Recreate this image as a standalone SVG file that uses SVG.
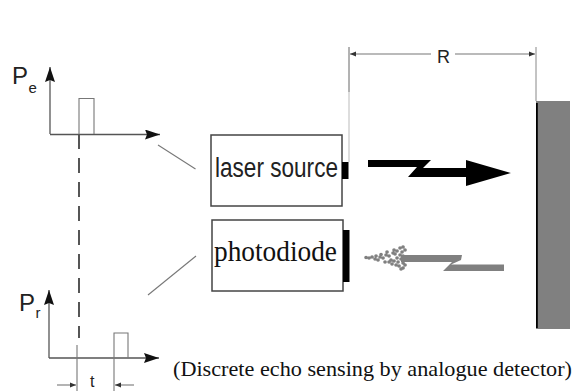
<svg xmlns="http://www.w3.org/2000/svg" width="573" height="391" viewBox="0 0 573 391">
<style>
.ax{fill:none;stroke:#555;stroke-width:1.3}
.thin{fill:none;stroke:#777;stroke-width:1.1}
.box{fill:#fff;stroke:#444;stroke-width:1.5}
.sans{font-family:"Liberation Sans",Arial,sans-serif;fill:#222}
.serif{font-family:"Liberation Serif","Times New Roman",serif;fill:#111}
.blk{fill:#000}
.gr{fill:#808080}
</style>
<defs>
<marker id="big" markerUnits="userSpaceOnUse" markerWidth="16" markerHeight="10" refX="15" refY="5" orient="auto"><path d="M0 0L15 5L0 10L2 5Z" fill="#111"/></marker>
<marker id="small" markerUnits="userSpaceOnUse" markerWidth="7" markerHeight="6" refX="6" refY="3" orient="auto"><path d="M0 0.5L6 3L0 5.5Z" fill="#333"/></marker>
</defs>
<rect width="573" height="391" fill="#fff"/>
<g id="connectors">
<path class="thin" d="M158 145L195.500 169"/>
<path class="thin" d="M148 295L196 256"/>
<path d="M349 47V92" stroke="#666" stroke-width="1" fill="none"/>
<path d="M349 92V162" stroke="#bbb" stroke-width="1" fill="none"/>
<path d="M536 47V101" stroke="#888" stroke-width="1" fill="none"/>
<path class="thin" d="M431 54H350" marker-end="url(#small)"/>
<path class="thin" d="M455 54H535" marker-end="url(#small)"/>
<path d="M79 134V338" fill="none" stroke="#444" stroke-width="1.800" stroke-dasharray="15 9"/>
</g>
<g id="chart-pe">
<path class="ax" d="M50 134V67" marker-end="url(#big)"/>
<path class="ax" d="M50 134.500H160" marker-end="url(#big)"/>
<path class="thin" d="M79 134V98.500H94V134"/>
<text class="sans" x="12" y="84" font-size="24">P</text>
<text class="sans" x="28.500" y="93" font-size="15">e</text>
</g>
<g id="chart-pr">
<path class="ax" d="M49 358V290" marker-end="url(#big)"/>
<path class="ax" d="M49 358H159" marker-end="url(#big)"/>
<path class="thin" d="M114 358V333H128V358"/>
<path class="thin" d="M77 345V391M114 358V391"/>
<path class="thin" d="M57 385H76" marker-end="url(#small)"/>
<path class="thin" d="M134 385H115" marker-end="url(#small)"/>
<text class="sans" x="19" y="311" font-size="24">P</text>
<text class="sans" x="35.500" y="318" font-size="15">r</text>
<text class="sans" x="90" y="387" font-size="16">t</text>
</g>
<g id="laser-source">
<rect class="box" x="211" y="135" width="131" height="71"/>
<rect class="blk" x="342" y="162" width="6.500" height="17"/>
<text class="sans" x="215" y="177" font-size="27" textLength="123" lengthAdjust="spacingAndGlyphs">laser source</text>
</g>
<g id="photodiode">
<rect class="box" x="212" y="220" width="131" height="71"/>
<rect class="blk" x="343" y="230" width="6.500" height="52"/>
<text class="serif" x="214" y="261" font-size="29" textLength="123" lengthAdjust="spacingAndGlyphs">photodiode</text>
</g>
<g id="target">
<rect class="gr" x="536" y="101" width="34" height="228"/>
<rect class="blk" x="536" y="103" width="1.800" height="225"/>
</g>
<g id="emitted-beam">
<path class="blk" d="M368 160H431L423 168H466V160L511 173L466 186V177H408L417 167H368Z"/>
</g>
<g id="received-beam">
<path class="gr" d="M401 255H462L461 260L451 264.500H504V271H443L452 262H401Z"/>
<path d="M366 257.500h.1M369 258h.1M372 257h.1M375 259h.1M376 256h.1M378 260h.1M380 257h.1M381 254.500h.1M383 258h.1M385 262h.1M386 255h.1M387 252h.1M389 256h.1M391 260h.1M392 264h.1M393 253h.1M394 250h.1M395 254h.1M397 258h.1M398 262h.1M399 266h.1M397 251h.1M400 248h.1M402 252h.1M403 247h.1M403 256h.1M401 259h.1M403 263h.1M403 268h.1M396 265h.1M401 269h.1M389 262h.1M405 250h.1M400 255h.1M394 261h.1M405 265h.1" stroke="#808080" stroke-width="3.600" stroke-linecap="round" fill="none"/>
</g>
<g id="caption">
<text class="serif" x="173" y="376" font-size="21" textLength="399" lengthAdjust="spacingAndGlyphs">(Discrete echo sensing by analogue detector)</text>
</g>
<g id="range-label">
<text class="sans" x="443.500" y="63" font-size="18" text-anchor="middle" fill="#333">R</text>
</g>
</svg>
